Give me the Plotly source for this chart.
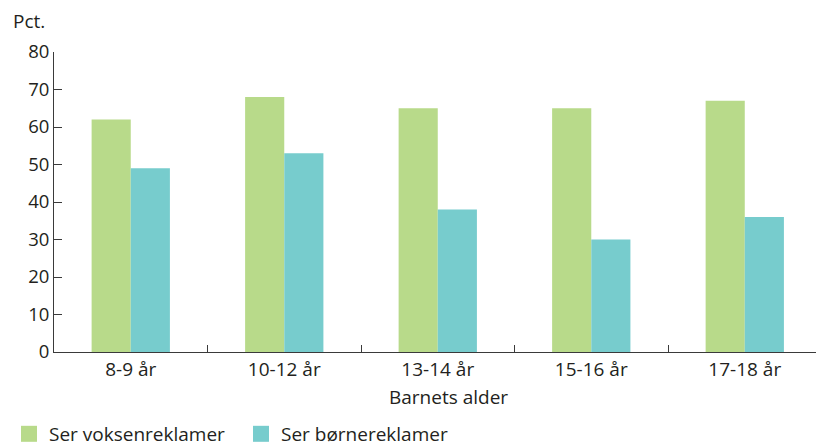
import plotly.graph_objects as go

# Age groups and share (%) of children who see each kind of advertising
age_groups = ["8-9 år", "10-12 år", "13-14 år", "15-16 år", "17-18 år"]
adult_ads = [62, 68, 65, 65, 67]
child_ads = [49, 53, 38, 30, 36]

series_names = ["Ser voksenreklamer", "Ser børnereklamer"]
colors = ["#b8da8a", "#77cccd"]

FONT = "Open Sans"
FS = 19
TEXT_COLOR = "#231f20"
AXIS_COLOR = "#3a3a3a"

fig = go.Figure()

for name, vals, col in zip(series_names, [adult_ads, child_ads], colors):
    fig.add_trace(go.Bar(
        x=age_groups, y=vals, name=name,
        marker=dict(color=col, line=dict(width=0)),
        showlegend=False,
    ))
    # legend entry with a larger square swatch
    fig.add_trace(go.Scatter(
        x=[None], y=[None], mode="markers", name=name,
        marker=dict(symbol="square", size=16, color=col),
        showlegend=True,
    ))

fig.update_layout(
    width=816, height=446,
    margin=dict(l=54, r=0, t=52, b=94),
    paper_bgcolor="white", plot_bgcolor="white",
    barmode="group", bargap=0.49, bargroupgap=0,
    font=dict(family=FONT, size=FS, color=TEXT_COLOR),
    showlegend=True,
    legend=dict(
        orientation="h", x=0.011, xanchor="left", xref="container",
        y=0.027, yanchor="middle", yref="container",
        entrywidth=187, entrywidthmode="pixels",
        font=dict(family=FONT, size=FS, color=TEXT_COLOR),
        itemclick=False, bgcolor="rgba(0,0,0,0)",
    ),
)

fig.update_xaxes(
    type="category", categoryorder="array", categoryarray=age_groups,
    range=[-0.5, 4.464],
    showline=True, linecolor=AXIS_COLOR, linewidth=1,
    tickson="boundaries", ticks="inside", ticklen=7, tickcolor=AXIS_COLOR,
    showgrid=False, zeroline=False,
    tickfont=dict(family=FONT, size=FS, color=TEXT_COLOR),
)
fig.update_yaxes(
    range=[0, 80], dtick=10, tick0=0,
    showline=True, linecolor=AXIS_COLOR, linewidth=1,
    ticks="inside", ticklen=8, tickcolor=AXIS_COLOR,
    showgrid=False, zeroline=False,
    tickfont=dict(family=FONT, size=18.5, color=TEXT_COLOR),
)

fig.add_annotation(
    text="Pct.", xref="paper", yref="paper", x=-0.057, y=1.103,
    xanchor="left", yanchor="middle", showarrow=False,
    font=dict(family=FONT, size=FS, color=TEXT_COLOR),
)
fig.add_annotation(
    text="Barnets alder", xref="paper", yref="paper", x=0.518, y=-0.15,
    xanchor="center", yanchor="middle", showarrow=False,
    font=dict(family=FONT, size=FS, color=TEXT_COLOR),
)

fig.write_html("out.html")
